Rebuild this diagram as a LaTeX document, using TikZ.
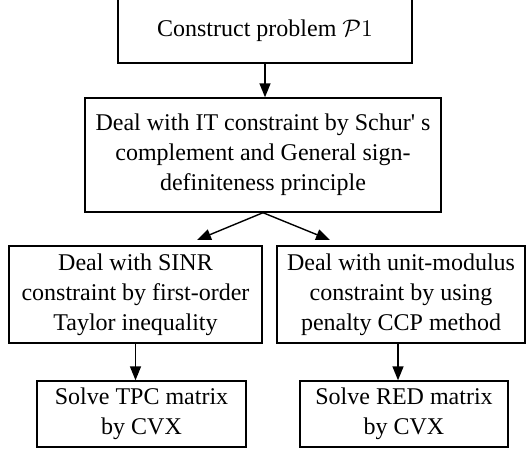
\documentclass[tikz,border=0pt]{standalone}
\usepackage{fontspec}
\setmainfont{Liberation Serif}
\usetikzlibrary{arrows.meta}
\tikzset{
  stepbox/.style={draw, line width=0.7pt, align=center, inner sep=0pt,
    font=\fontsize{12}{15}\selectfont},
  flow/.style={line width=0.7pt, -{Triangle[length=7pt,width=5.5pt]}}
}
\begin{document}
\begin{tikzpicture}[x=0.5pt,y=-0.5pt]
\useasboundingbox (0,0) rectangle (528,450);
\node[stepbox, minimum width=147pt, minimum height=32pt] (prob) at (265,31) {Construct problem $\mathcal{P}1$};
\node[stepbox, minimum width=178pt, minimum height=57pt] (schur) at (263,155) {Deal with IT constraint by Schur\textquotesingle{} s\\ complement and General sign-\\ definiteness principle};
\node[stepbox, minimum width=126.5pt, minimum height=48.5pt] (sinr) at (135.5,294.5) {Deal with SINR\\ constraint by first-order\\ Taylor inequality};
\node[stepbox, minimum width=124pt, minimum height=48.5pt] (unit) at (401,294.5) {Deal with unit-modulus\\ constraint by using\\ penalty CCP method};
\node[stepbox, minimum width=104.5pt, minimum height=33pt] (tpc) at (141.5,414) {Solve TPC matrix\\ by CVX};
\node[stepbox, minimum width=104pt, minimum height=33pt] (red) at (404,414) {Solve RED matrix\\ by CVX};
\coordinate (tosinr) at (197,240);
\coordinate (tounit) at (330,240);
\draw[flow] (prob.south) -- (prob.south |- schur.north);
\draw[flow] (schur.south) -- (tosinr);
\draw[flow] (schur.south) -- (tounit);
\draw[flow] (sinr.south) -- (sinr.south |- tpc.north);
\draw[flow] ([xshift=-1.5pt]unit.south) -- ([xshift=-1.5pt]unit.south |- red.north);
\end{tikzpicture}
\end{document}
